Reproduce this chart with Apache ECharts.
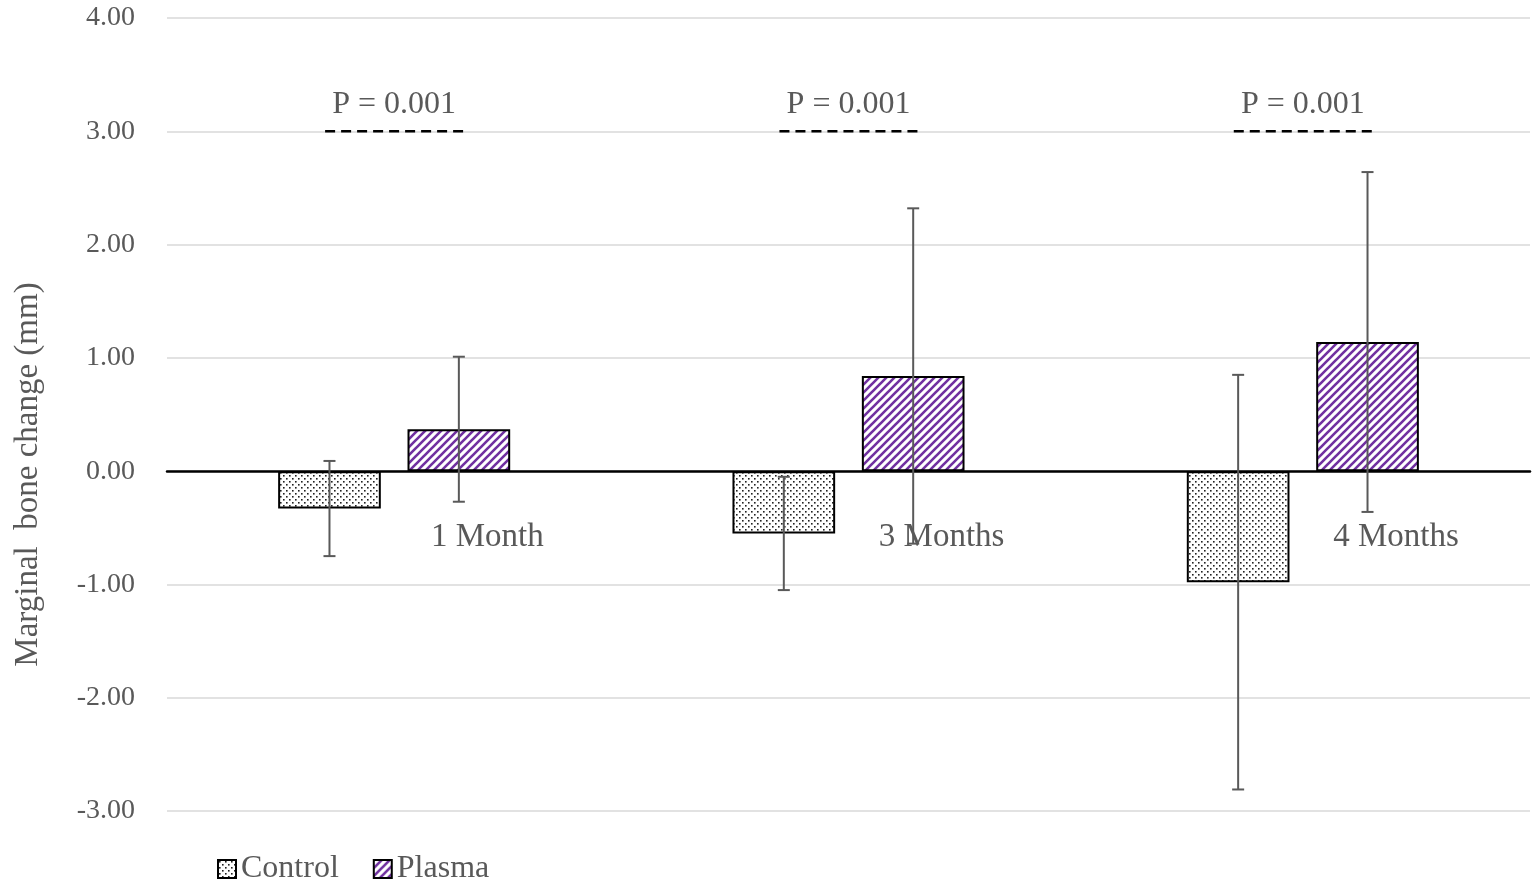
<!DOCTYPE html>
<html>
<head>
<meta charset="utf-8">
<script src="https://cdn.jsdelivr.net/npm/echarts@6/dist/echarts.min.js"></script>
<style>
  html, body { margin: 0; padding: 0; background: #fff; }
  #chart { width: 1540px; height: 879px; }
</style>
</head>
<body>
<div id="chart"></div>
<script>
// Marginal bone change by follow-up time, mean ± SD
const categories = ['1 Month', '3 Months', '4 Months'];
const controlMean = [-0.33, -0.55, -0.98];
const controlSD = [0.42, 0.50, 1.83];
const plasmaMean = [0.37, 0.84, 1.14];
const plasmaSD = [0.64, 1.48, 1.50];
const pLabels = ['P = 0.001', 'P = 0.001', 'P = 0.001'];
const pLineLevel = 3.0;
const pTextLevel = 3.24;
const yTicks = [-3, -2, -1, 0, 1, 2, 3, 4];

const FONT = "'Liberation Serif', 'Times New Roman', serif";
const GREY = '#595959';
const BAR_W = 0.226;   // bar width as share of category band
const BAR_GAP = 0.26;  // gap between the two bars, share of bar width

function dotPattern() {
  const c = document.createElement('canvas');
  c.width = 6; c.height = 6;
  const g = c.getContext('2d');
  g.fillStyle = '#ffffff';
  g.fillRect(0, 0, 6, 6);
  g.fillStyle = '#222222';
  g.fillRect(1, 1, 1.6, 1.6);
  g.fillRect(4, 4, 1.6, 1.6);
  return c;
}

function stripePattern() {
  const s = 8;
  const c = document.createElement('canvas');
  c.width = s; c.height = s;
  const g = c.getContext('2d');
  g.fillStyle = '#ffffff';
  g.fillRect(0, 0, s, s);
  g.strokeStyle = '#7030A0';
  g.lineWidth = 2.6;
  g.lineCap = 'square';
  [[-s, s, s, -s], [0, s, s, 0], [0, s * 2, s * 2, 0]].forEach(function (p) {
    g.beginPath();
    g.moveTo(p[0], p[1]);
    g.lineTo(p[2], p[3]);
    g.stroke();
  });
  return c;
}

const controlFill = { image: dotPattern(), repeat: 'repeat' };
const plasmaFill = { image: stripePattern(), repeat: 'repeat' };

function errorItem(sign, means, sds) {
  return function (params, api) {
    const i = api.value(0);
    const band = api.size([1, 0])[0];
    const off = sign * band * BAR_W * (1 + BAR_GAP) / 2;
    const m = means[i], sd = sds[i];
    const top = api.coord([i, m + sd]);
    const bot = api.coord([i, m - sd]);
    const x = top[0] + off;
    const cap = 6;
    const style = { stroke: GREY, lineWidth: 2 };
    return {
      type: 'group',
      children: [
        { type: 'line', shape: { x1: x, y1: top[1], x2: x, y2: bot[1] }, style: style },
        { type: 'line', shape: { x1: x - cap, y1: top[1], x2: x + cap, y2: top[1] }, style: style },
        { type: 'line', shape: { x1: x - cap, y1: bot[1], x2: x + cap, y2: bot[1] }, style: style }
      ]
    };
  };
}

// significance marker above each group, plus the category name set just under the zero line
function annotItem(params, api) {
  const i = api.value(0);
  const band = api.size([1, 0])[0];
  const half = band * 0.152;
  const lp = api.coord([i, pLineLevel]);
  const tp = api.coord([i, pTextLevel]);
  const zp = api.coord([i, 0]);
  return {
    type: 'group',
    children: [
      { type: 'line', shape: { x1: lp[0] - half, y1: lp[1], x2: lp[0] + half, y2: lp[1] },
        style: { stroke: '#000', lineWidth: 2.5, lineDash: [10, 6] } },
      { type: 'text', x: tp[0], y: tp[1],
        style: { text: pLabels[i], fill: GREY, font: '32px ' + FONT, align: 'center', verticalAlign: 'middle' } },
      { type: 'text', x: zp[0] + band * 0.205, y: zp[1] + 66,
        style: { text: categories[i], fill: GREY, font: '33px ' + FONT, align: 'center', verticalAlign: 'middle' } }
    ]
  };
}

const chart = echarts.init(document.getElementById('chart'));
chart.setOption({
  animation: false,
  backgroundColor: '#fff',
  grid: { left: 167, right: 10, top: 18, bottom: 68, containLabel: false, outerBoundsMode: 'none' },
  legend: {
    left: 212, top: 848,
    icon: 'rect',
    itemWidth: 18, itemHeight: 18, itemGap: 34,
    data: ['Control', 'Plasma'],
    textStyle: { fontFamily: FONT, fontSize: 32, color: GREY }
  },
  xAxis: {
    type: 'category',
    data: categories,
    axisLine: { onZero: true, lineStyle: { color: '#000', width: 2.5 } },
    axisTick: { show: false },
    axisLabel: { show: false },
    splitLine: { show: false }
  },
  yAxis: {
    type: 'value',
    min: yTicks[0], max: yTicks[yTicks.length - 1], interval: 1,
    name: 'Marginal  bone change (mm)',
    nameLocation: 'middle', nameGap: 122, nameRotate: 90,
    nameTextStyle: { fontFamily: FONT, fontSize: 33, color: GREY, padding: [0, 120, 0, 0] },
    axisLine: { show: false },
    axisTick: { show: false },
    axisLabel: {
      margin: 32, fontFamily: FONT, fontSize: 28, color: GREY,
      formatter: function (v) { return v.toFixed(2); }
    },
    splitLine: { lineStyle: { color: '#d9d9d9', width: 1.5 } }
  },
  series: [
    {
      name: 'Control', type: 'bar', data: controlMean,
      barWidth: (BAR_W * 100) + '%', barGap: (BAR_GAP * 100) + '%',
      itemStyle: { color: controlFill, borderColor: '#000', borderWidth: 2 }
    },
    {
      name: 'Plasma', type: 'bar', data: plasmaMean,
      barWidth: (BAR_W * 100) + '%',
      itemStyle: { color: plasmaFill, borderColor: '#000', borderWidth: 2 }
    },
    {
      type: 'custom', renderItem: errorItem(-1, controlMean, controlSD),
      data: categories.map(function (c, i) { return [i]; }), z: 5, silent: true
    },
    {
      type: 'custom', renderItem: errorItem(1, plasmaMean, plasmaSD),
      data: categories.map(function (c, i) { return [i]; }), z: 5, silent: true
    },
    {
      type: 'custom', renderItem: annotItem,
      data: categories.map(function (c, i) { return [i]; }), z: 5, silent: true
    }
  ]
});
</script>
</body>
</html>
